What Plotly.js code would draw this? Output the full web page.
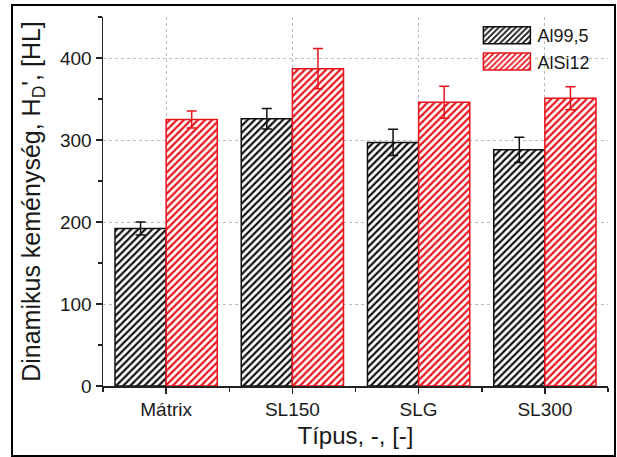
<!DOCTYPE html>
<html>
<head>
<meta charset="utf-8">
<script src="https://cdn.plot.ly/plotly-3.0.1.min.js"></script>
<style>
  html, body { margin: 0; padding: 0; background: #fff; }
  #chart { width: 617px; height: 457px; }
</style>
</head>
<body>
<div id="chart"></div>
<script>
const categories = ["Mátrix", "SL150", "SLG", "SL300"];
const seriesNames = ["Al99,5", "AlSi12"];
const al995Values = [192, 326, 297, 288];
const al995Errors = [8, 12.5, 16, 15.5];
const alsi12Values = [325, 387, 346, 351];
const alsi12Errors = [10.5, 24.5, 19.5, 14];
const yTickValues = [0, 100, 200, 300, 400];

const BLACK = "#111111";
const RED = "#e8141c";
const FONT = "'Liberation Sans', Arial, sans-serif";
const positions = categories.map((c, i) => i);

function barTrace(name, values, errors, color) {
  return {
    type: "bar",
    name: name,
    x: positions,
    y: values,
    text: categories,
    hoverinfo: "name+text+y",
    textposition: "none",
    marker: {
      color: "#ffffff",
      line: { color: color, width: 1.5 },
      pattern: { shape: "/", fgcolor: color, bgcolor: "#ffffff", size: 5, solidity: 0.45 }
    },
    error_y: { type: "data", array: errors, visible: true, color: color, thickness: 1.5, width: 5 }
  };
}

const data = [
  barTrace(seriesNames[0], al995Values, al995Errors, BLACK),
  barTrace(seriesNames[1], alsi12Values, alsi12Errors, RED)
];

const layout = {
  width: 617,
  height: 457,
  margin: { l: 103, r: 9, t: 17, b: 71 },
  paper_bgcolor: "#ffffff",
  plot_bgcolor: "#ffffff",
  font: { family: FONT, size: 19, color: "#1a1a1a" },
  barmode: "group",
  bargap: 0.19,
  bargroupgap: 0,
  showlegend: true,
  legend: {
    x: 0.975, xanchor: "right", y: 1.0, yanchor: "top",
    bgcolor: "rgba(255,255,255,0)",
    font: { family: FONT, size: 18, color: "#1a1a1a" },
    itemwidth: 60,
    tracegroupgap: 0
  },
  xaxis: {
    type: "linear",
    range: [-0.5, 3.5],
    tickvals: positions,
    ticktext: categories,
    showline: true, linecolor: "#222222", linewidth: 1.5,
    ticks: "outside", ticklen: 6, tickwidth: 1.5, tickcolor: "#222222",
    minor: { tick0: 0.5, dtick: 1, ticks: "outside", ticklen: 4, tickwidth: 1.5, tickcolor: "#222222", showgrid: false },
    showgrid: true, gridcolor: "#bbbbbb", griddash: "dot", gridwidth: 1,
    tickfont: { family: FONT, size: 19, color: "#1a1a1a" },
    title: { text: "Típus, -, [-]", font: { family: FONT, size: 24, color: "#1a1a1a" }, standoff: 8 },
    zeroline: false,
    fixedrange: true
  },
  yaxis: {
    range: [0, 450],
    tickvals: yTickValues,
    showline: true, linecolor: "#222222", linewidth: 1.5,
    ticks: "outside", ticklen: 6, tickwidth: 1.5, tickcolor: "#222222",
    minor: { dtick: 50, ticks: "outside", ticklen: 4, tickwidth: 1.5, tickcolor: "#222222", showgrid: false },
    showgrid: true, gridcolor: "#bbbbbb", griddash: "dot", gridwidth: 1,
    tickfont: { family: FONT, size: 19, color: "#1a1a1a" },
    title: { text: "Dinamikus keménység, H<sub>D</sub>', [HL]", font: { family: FONT, size: 25, color: "#1a1a1a" }, standoff: 12 },
    zeroline: false,
    fixedrange: true
  },
  shapes: [
    { type: "rect", xref: "paper", yref: "paper", x0: -0.1802, x1: 1.0139, y0: -0.1897, y1: 1.0325,
      line: { color: "#000000", width: 2 }, fillcolor: "rgba(0,0,0,0)", layer: "above" }
  ]
};

Plotly.newPlot("chart", data, layout, { staticPlot: true, displayModeBar: false }).then(function (gd) {
  // widen the legend swatches to match the wide hatched boxes of the reference
  gd.querySelectorAll(".legend .legendpoints path").forEach(function (p) {
    p.setAttribute("d", "M28,8.5H-19V-8.5H28Z");
  });
});
</script>
</body>
</html>
